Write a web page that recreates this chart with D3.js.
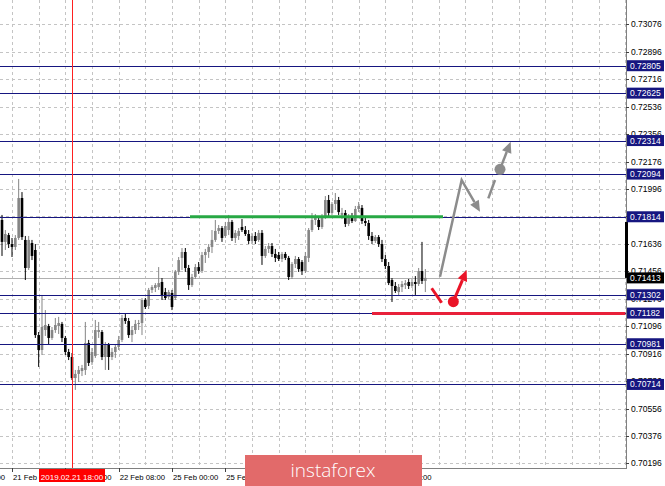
<!DOCTYPE html>
<html><head><meta charset="utf-8">
<script src="https://cdn.jsdelivr.net/npm/d3@7"></script>
<style>
html,body{margin:0;padding:0;background:#fff;}
svg{display:block;font-family:"Liberation Sans",Arial,sans-serif;}
</style></head><body>
<svg id="c" width="665" height="486"></svg>
<script>
// ---- data (H1 candles, first bar index -3 relative to 21 Feb 00:00) ----
const firstBar = -3;
const open  = [0.71793,0.71649,0.71694,0.71635,0.71616,0.71675,0.71937,0.71662,0.71478,0.71642,0.71596,0.71038,0.70940,0.71071,0.71097,0.71019,0.71071,0.71097,0.71111,0.71019,0.70927,0.70894,0.70756,0.70783,0.70802,0.70809,0.70986,0.70861,0.70901,0.71058,0.71058,0.70894,0.70973,0.70894,0.70927,0.70960,0.71006,0.71150,0.71130,0.71038,0.71071,0.71111,0.71117,0.71268,0.71229,0.71334,0.71347,0.71353,0.71386,0.71320,0.71288,0.71314,0.71281,0.71452,0.71544,0.71583,0.71478,0.71366,0.71419,0.71484,0.71458,0.71563,0.71583,0.71616,0.71662,0.71721,0.71740,0.71688,0.71727,0.71780,0.71675,0.71688,0.71747,0.71727,0.71701,0.71655,0.71688,0.71662,0.71708,0.71557,0.71603,0.71622,0.71570,0.71563,0.71537,0.71570,0.71544,0.71419,0.71504,0.71537,0.71517,0.71458,0.71544,0.71727,0.71793,0.71793,0.71747,0.71812,0.71924,0.71839,0.71898,0.71924,0.71826,0.71839,0.71767,0.71812,0.71786,0.71865,0.71872,0.71786,0.71773,0.71688,0.71655,0.71681,0.71635,0.71537,0.71491,0.71399,0.71360,0.71320,0.71353,0.71366,0.71386,0.71360,0.71386,0.71373,0.71458,0.71393];
const high  = [0.71826,0.71727,0.71708,0.71675,0.71694,0.72062,0.71976,0.71688,0.71688,0.71662,0.71635,0.71058,0.71301,0.71202,0.71111,0.71091,0.71150,0.71157,0.71124,0.71032,0.70947,0.70920,0.70809,0.70835,0.70842,0.71124,0.71006,0.70953,0.71137,0.71124,0.71071,0.70992,0.70986,0.70953,0.70973,0.71032,0.71170,0.71176,0.71150,0.71097,0.71137,0.71137,0.71281,0.71281,0.71347,0.71366,0.71379,0.71484,0.71412,0.71347,0.71334,0.71334,0.71465,0.71550,0.71609,0.71609,0.71498,0.71439,0.71504,0.71517,0.71583,0.71603,0.71635,0.71727,0.71793,0.71760,0.71753,0.71780,0.71826,0.71793,0.71727,0.71740,0.71799,0.71753,0.71727,0.71708,0.71714,0.71727,0.71727,0.71622,0.71642,0.71642,0.71603,0.71583,0.71583,0.71583,0.71557,0.71517,0.71557,0.71550,0.71530,0.71583,0.71740,0.71839,0.71832,0.71812,0.71832,0.71950,0.71957,0.71911,0.71970,0.71944,0.71872,0.71858,0.71832,0.71839,0.71885,0.71911,0.71891,0.71806,0.71793,0.71714,0.71694,0.71694,0.71662,0.71563,0.71517,0.71412,0.71386,0.71373,0.71393,0.71399,0.71406,0.71406,0.71425,0.71478,0.71649,0.71471];
const low   = [0.71557,0.71596,0.71609,0.71550,0.71596,0.71662,0.71662,0.71399,0.71465,0.71530,0.71019,0.70829,0.70907,0.71032,0.70973,0.71006,0.71052,0.71045,0.70992,0.70907,0.70874,0.70743,0.70678,0.70730,0.70769,0.70776,0.70835,0.70842,0.70888,0.71019,0.70874,0.70809,0.70809,0.70874,0.70888,0.70940,0.70992,0.71111,0.71019,0.70992,0.71045,0.71071,0.71038,0.71209,0.71209,0.71314,0.71320,0.71334,0.71268,0.71268,0.71275,0.71202,0.71268,0.71432,0.71465,0.71452,0.71334,0.71353,0.71406,0.71439,0.71445,0.71511,0.71544,0.71576,0.71649,0.71701,0.71649,0.71675,0.71694,0.71655,0.71642,0.71662,0.71714,0.71688,0.71635,0.71635,0.71635,0.71649,0.71498,0.71544,0.71576,0.71550,0.71517,0.71524,0.71517,0.71530,0.71399,0.71406,0.71478,0.71452,0.71432,0.71445,0.71517,0.71714,0.71760,0.71727,0.71734,0.71799,0.71819,0.71826,0.71858,0.71826,0.71799,0.71747,0.71753,0.71773,0.71780,0.71845,0.71767,0.71753,0.71662,0.71635,0.71642,0.71616,0.71517,0.71471,0.71366,0.71255,0.71314,0.71294,0.71320,0.71340,0.71340,0.71347,0.71301,0.71360,0.71373,0.71320];
const close = [0.71649,0.71701,0.71635,0.71616,0.71675,0.71937,0.71681,0.71478,0.71662,0.71557,0.71038,0.70940,0.71091,0.71104,0.71019,0.71071,0.71104,0.71117,0.71019,0.70927,0.70894,0.70756,0.70783,0.70809,0.70822,0.70986,0.70855,0.70927,0.71071,0.71071,0.70894,0.70973,0.70894,0.70927,0.70960,0.71006,0.71150,0.71130,0.71038,0.71071,0.71111,0.71117,0.71268,0.71222,0.71334,0.71353,0.71366,0.71379,0.71294,0.71281,0.71320,0.71222,0.71452,0.71530,0.71583,0.71478,0.71366,0.71419,0.71484,0.71458,0.71563,0.71583,0.71616,0.71662,0.71721,0.71740,0.71675,0.71753,0.71780,0.71675,0.71708,0.71721,0.71727,0.71701,0.71655,0.71688,0.71655,0.71708,0.71557,0.71603,0.71622,0.71570,0.71544,0.71537,0.71570,0.71544,0.71419,0.71504,0.71537,0.71471,0.71458,0.71557,0.71727,0.71793,0.71806,0.71747,0.71812,0.71924,0.71839,0.71898,0.71924,0.71845,0.71839,0.71767,0.71812,0.71786,0.71865,0.71885,0.71786,0.71773,0.71688,0.71655,0.71681,0.71635,0.71537,0.71491,0.71379,0.71360,0.71327,0.71353,0.71373,0.71379,0.71360,0.71386,0.71373,0.71458,0.71393,0.71413];

const priceTicks = [0.73076,0.72896,0.72716,0.72536,0.72356,0.72176,0.71996,0.71816,0.71636,0.71456,0.71276,0.71096,0.70916,0.70736,0.70556,0.70376,0.70196];
const levels = [0.72805,0.72625,0.72314,0.72094,0.71814,0.71302,0.71182,0.70981,0.70714];
const bid = 0.71413;
const timeLabels = ["20 Feb 08:00","21 Feb 00:00","21 Feb 16:00","22 Feb 08:00","25 Feb 00:00","25 Feb 16:00","26 Feb 08:00","27 Feb 00:00","27 Feb 16:00"];
const timeLabelBars = [-16,0,16,32,48,64,80,96,112];
const cursorBar = 18, cursorLabel = "2019.02.21 18:00";
// forecast drawings: [bar, price]
const resistance = {from:53.4, to:129.3, price:0.71814};
const support = {from:108, to:184, price:0.71182};
const grayPath = [[128.4,0.71421],[134.9,0.72055],[140.4,0.71847]];
const grayDash = [[142.9,0.71935],[144.9,0.72055]];
const grayDot = [146.4,0.72125];
const grayUp = [[146.4,0.72125],[149.6,0.72306]];
const redDash = [[125.9,0.71345],[128.9,0.71250]];
const redDot = [132.4,0.71257];
const redUp = [[132.4,0.71257],[136.4,0.71465]];

// ---- layout ----
const W = 665, H = 486, plotR = 626, plotB = 468;
const x = d3.scaleLinear().domain([0,16]).range([12, 65.333]);
const y = d3.scaleLinear().domain([0.70196,0.73076]).range([463.4,24.4]);
const svg = d3.select("#c");
const NAVY = "#161680";

svg.append("rect").attr("width",W).attr("height",H).attr("fill","#fff");
const defs = svg.append("defs");
defs.append("clipPath").attr("id","pc").append("rect").attr("x",0).attr("y",0).attr("width",plotR).attr("height",plotB);
defs.append("clipPath").attr("id","tc").append("rect").attr("x",0).attr("y",plotB).attr("width",plotR).attr("height",H-plotB);
const plot = svg.append("g").attr("clip-path","url(#pc)");

// grid
plot.selectAll("line.hg").data(priceTicks).join("line")
  .attr("x1",0).attr("x2",plotR).attr("y1",d=>Math.round(y(d))+0.5).attr("y2",d=>Math.round(y(d))+0.5)
  .attr("stroke","#c4c4c4").attr("stroke-dasharray","3,3");
plot.selectAll("line.vg").data(d3.range(0,190,8)).join("line")
  .attr("y1",0).attr("y2",plotB).attr("x1",d=>Math.round(x(d))+0.5).attr("x2",d=>Math.round(x(d))+0.5)
  .attr("stroke","#c4c4c4").attr("stroke-dasharray","3,3");

// bid line
plot.append("line").attr("x1",0).attr("x2",plotR)
  .attr("y1",Math.round(y(bid))+0.5).attr("y2",Math.round(y(bid))+0.5).attr("stroke","#b0b0b0");

// candles
const bars = close.map((c,k)=>({i:firstBar+k,o:open[k],h:high[k],l:low[k],c:c}));
const cg = plot.append("g");
bars.forEach(b=>{
  const col = b.c >= b.o ? "#858585" : "#000";
  const cx = x(b.i);
  cg.append("line").attr("x1",cx).attr("x2",cx).attr("y1",y(b.h)).attr("y2",y(b.l)).attr("stroke",col).attr("stroke-width",1);
  const top = y(Math.max(b.o,b.c)), bot = y(Math.min(b.o,b.c));
  cg.append("rect").attr("x",cx-1.3).attr("width",2.6).attr("y",top).attr("height",Math.max(1,bot-top)).attr("fill",col);
});

// level lines
plot.selectAll("line.lv").data(levels).join("line")
  .attr("x1",0).attr("x2",plotR).attr("y1",d=>Math.round(y(d))+0.5).attr("y2",d=>Math.round(y(d))+0.5)
  .attr("stroke",NAVY).attr("stroke-width",1);

// green & red horizontal lines
plot.append("line").attr("x1",x(resistance.from)).attr("x2",x(resistance.to))
  .attr("y1",y(resistance.price)).attr("y2",y(resistance.price)).attr("stroke","#27a844").attr("stroke-width",3);
plot.append("line").attr("x1",x(support.from)).attr("x2",x(support.to))
  .attr("y1",y(support.price)+0.5).attr("y2",y(support.price)+0.5).attr("stroke","#e8203a").attr("stroke-width",3);

function px(p){return [x(p[0]),y(p[1])];}
function arrow(g, pts, color, w, head){
  const P = pts.map(px);
  const a = P[P.length-2], b = P[P.length-1];
  const dx=b[0]-a[0], dy=b[1]-a[1], len=Math.hypot(dx,dy), ux=dx/len, uy=dy/len;
  const hl=11, hw=5;
  const base=[b[0]-ux*hl, b[1]-uy*hl];
  const line = P.slice(0,-1).concat(head?[base]:[b]);
  g.append("path").attr("d",d3.line()(line)).attr("fill","none").attr("stroke",color)
    .attr("stroke-width",w).attr("stroke-linejoin","miter");
  if(head){
    g.append("path").attr("d",d3.line()([b,[base[0]-uy*hw,base[1]+ux*hw],[base[0]+uy*hw,base[1]-ux*hw]])+"Z").attr("fill",color);
  }
}
const GRAY="#8c8c8c", RED="#ea1428";
const ag = plot.append("g");
arrow(ag, grayPath, GRAY, 2.5, true);
arrow(ag, grayDash, GRAY, 2.5, false);
arrow(ag, grayUp, GRAY, 2.5, true);
ag.append("circle").attr("cx",x(grayDot[0])).attr("cy",y(grayDot[1])).attr("r",5.5).attr("fill",GRAY);
arrow(ag, redDash, RED, 3, false);
arrow(ag, redUp, RED, 3, true);
ag.append("circle").attr("cx",x(redDot[0])).attr("cy",y(redDot[1])).attr("r",5.5).attr("fill",RED);

// cursor vertical line
svg.append("line").attr("x1",Math.round(x(cursorBar))+0.5).attr("x2",Math.round(x(cursorBar))+0.5)
  .attr("y1",0).attr("y2",plotB).attr("stroke","#ff2020").attr("stroke-width",1);

// axes
svg.append("line").attr("x1",plotR+0.5).attr("x2",plotR+0.5).attr("y1",0).attr("y2",plotB+1).attr("stroke","#808080");
svg.append("line").attr("x1",0).attr("x2",plotR+1).attr("y1",plotB+0.5).attr("y2",plotB+0.5).attr("stroke","#808080");
svg.selectAll("line.pt").data(priceTicks).join("line")
  .attr("x1",plotR).attr("x2",plotR+3).attr("y1",d=>Math.round(y(d))+0.5).attr("y2",d=>Math.round(y(d))+0.5).attr("stroke","#404040");
svg.selectAll("text.pl").data(priceTicks).join("text")
  .attr("x",plotR+5).attr("y",d=>y(d)+3).attr("font-size",8.5).attr("fill","#000").text(d=>d.toFixed(5));
svg.selectAll("line.tt").data(timeLabelBars).join("line")
  .attr("x1",d=>Math.round(x(d))+0.5).attr("x2",d=>Math.round(x(d))+0.5).attr("y1",plotB).attr("y2",plotB+4).attr("stroke","#404040");

// time labels (the cursor label box hides part of them, as in the terminal)
const cx0 = x(cursorBar);
const boxL = cx0-33, boxR = cx0+33;
const tg = svg.append("g");
timeLabels.forEach((d,k)=>{
  const tx = x(timeLabelBars[k])+1;
  const t = tg.append("text").attr("x",tx).attr("y",480).attr("font-size",7.7).attr("fill","#000").text(d);
  const w = t.node().getComputedTextLength();
  // clip each label to the parts that stay visible outside the cursor box
  if (tx < boxR && tx + w > boxL) {
    const id = "lc"+k;
    const cp = defs.append("clipPath").attr("id",id);
    if (tx < boxL) cp.append("rect").attr("x",Math.max(0,tx-2)).attr("y",plotB).attr("width",boxL-Math.max(0,tx-2)).attr("height",18);
    if (tx + w > boxR) cp.append("rect").attr("x",boxR).attr("y",plotB).attr("width",tx+w+2-boxR).attr("height",18);
    t.attr("clip-path","url(#"+id+")");
  }
});

// black bar on axis
svg.append("rect").attr("x",plotR-1).attr("width",3).attr("y",y(0.71780)).attr("height",y(bid)-y(0.71780)).attr("fill","#000");

// level boxes
levels.forEach(v=>{
  svg.append("rect").attr("x",plotR+1).attr("y",y(v)-5.5).attr("width",37).attr("height",11).attr("fill",NAVY);
  svg.append("text").attr("x",plotR+4).attr("y",y(v)+3).attr("font-size",8.5).attr("fill","#fff").text(v.toFixed(5));
});
svg.append("rect").attr("x",plotR+1).attr("y",y(bid)-5.5).attr("width",37).attr("height",11).attr("fill","#000");
svg.append("text").attr("x",plotR+4).attr("y",y(bid)+3).attr("font-size",8.5).attr("fill","#fff").text(bid.toFixed(5));

// cursor time label
svg.append("rect").attr("x",boxL).attr("y",plotB+1).attr("width",66).attr("height",13).attr("fill","#ff0000");
svg.append("text").attr("x",cx0).attr("y",480).attr("text-anchor","middle").attr("font-size",8).attr("fill","#fff").text(cursorLabel);

// watermark banner
svg.append("rect").attr("x",245).attr("y",455).attr("width",177).attr("height",31).attr("fill","#e26a6a");
svg.append("text").attr("x",333).attr("y",477).attr("text-anchor","middle").attr("font-family","'Open Sans',sans-serif")
  .attr("font-weight",300).attr("font-size",19).attr("fill","#fff").text("instaforex");
</script></body></html>
